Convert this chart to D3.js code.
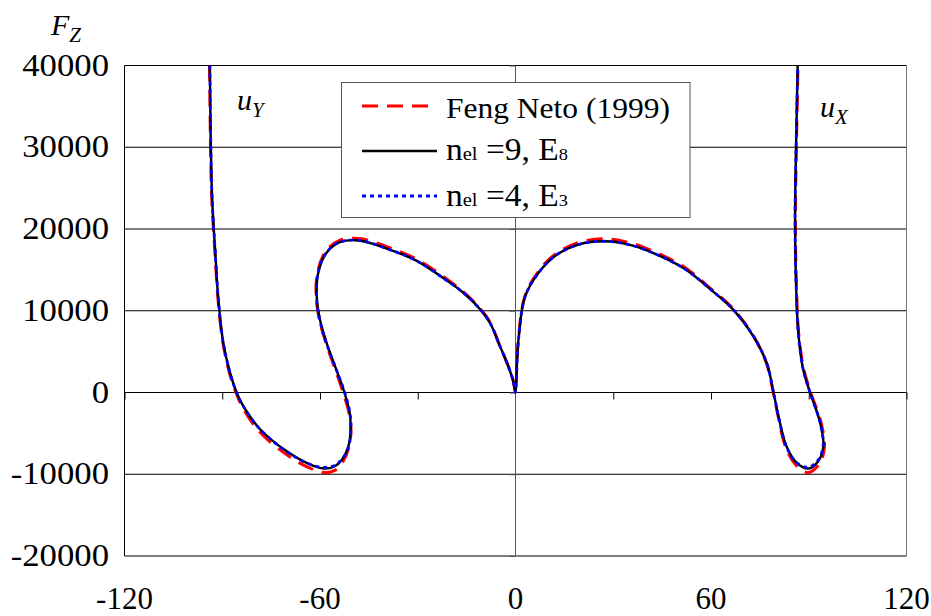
<!DOCTYPE html>
<html>
<head>
<meta charset="utf-8">
<script src="https://cdn.jsdelivr.net/npm/d3@7"></script>
<style>
  html, body { margin: 0; padding: 0; background: #fff; }
</style>
</head>
<body>
<svg id="chart" width="931" height="616"></svg>
<script>
// ---------- data ----------
const xTickLabels = [-120, -60, 0, 60, 120];
const xMinorTicks = [-120, -90, -60, -30, 30, 60, 90, 120];
const yTickLabels = [-20000, -10000, 0, 10000, 20000, 30000, 40000];
const seriesNames = ["Feng Neto (1999)", "n_el=9, E8", "n_el=4, E3"];

// Feng Neto (1999) – red dashed
const fengU = [-93.9,-93.6,-93.2,-92.3,-91.3,-89.8,-87.8,-85.8,-83.8,-78.8,-70.6,-63.4,-58.6,-55.3,-53.0,-51.1,-50.5,-51.1,-52.9,-55.3,-58.2,-60.2,-61.2,-60.7,-58.2,-54.0,-48.0,-39.5,-30.3,-22.2,-16.0,-10.9,-7.8,-4.8,-2.2,-0.7,0,
               0.35,0.9,2.9,7.0,12.1,19.3,27.5,35.7,43.8,52.0,60.2,66.9,73.0,77.0,79.1,80.6,83.0,86.1,89.9,93.3,94.8,93.8,90.6,88.5,86.9,86.2,85.9,86.2,86.7];
const fengF = [40000,30000,23600,17500,11400,6100,2400,0,-1800,-4700,-7500,-9200,-9800,-9500,-8500,-6700,-4500,-2500,0,2800,6100,8900,11800,14800,17300,18600,18850,17850,16300,14200,12300,10300,8600,5700,3200,1400,0,
               2700,6500,11800,14800,16900,18350,18800,18250,17000,15300,12600,10200,6900,3600,0,-2900,-6800,-8900,-9800,-8700,-6700,-3700,0,2800,7300,13400,21600,29700,40000];

// n_el = 9, E8 – black solid
const nel9U = [-93.8,-93.5,-93.1,-92.2,-91.2,-89.7,-87.6,-85.6,-83.5,-78.4,-70.2,-63.1,-58.8,-55.6,-53.2,-51.3,-50.6,-50.9,-52.5,-55.0,-58.0,-60.0,-61.0,-60.5,-58.0,-53.9,-48.0,-39.5,-30.3,-22.2,-16.0,-10.9,-7.8,-4.8,-2.2,-0.7,0,
               0.35,0.9,2.9,7.0,12.1,19.3,27.5,35.7,43.8,52.0,60.2,66.9,73.0,77.1,79.2,80.7,83.2,86.3,89.9,92.9,94.5,93.5,90.4,88.3,86.8,86.1,85.8,86.1,86.6];
const nel9F = [40000,30000,23600,17500,11400,6100,2400,0,-1700,-4500,-7200,-8800,-9300,-9050,-8200,-6600,-4500,-2500,0,2800,6100,8900,11800,14700,17100,18400,18600,17600,16100,14000,12200,10200,8500,5700,3200,1400,0,
               2700,6400,11700,14600,16700,18100,18500,18000,16800,15100,12500,10100,6900,3600,0,-2900,-6600,-8600,-9300,-8400,-6600,-3700,0,2800,7300,13400,21600,29700,40000];

// n_el = 4, E3 – blue dotted
const nel4U = [-93.8,-93.5,-93.1,-92.2,-91.2,-89.7,-87.6,-85.6,-83.5,-78.4,-70.3,-63.3,-59.0,-55.7,-53.2,-51.2,-50.5,-50.8,-52.4,-55.0,-58.1,-60.1,-61.1,-60.6,-58.1,-54.0,-48.0,-39.5,-30.3,-22.2,-16.0,-10.9,-7.8,-4.8,-2.2,-0.7,0,
               0.35,0.9,2.9,7.0,12.1,19.3,27.5,35.7,43.8,52.0,60.2,66.9,73.0,77.1,79.2,80.7,83.1,86.2,89.8,92.8,94.4,93.5,90.4,88.3,86.8,86.1,85.8,86.1,86.6];
const nel4F = [40000,30000,23600,17500,11400,6100,2400,0,-1700,-4500,-7200,-8750,-9150,-8950,-8150,-6600,-4500,-2500,0,2800,6100,8900,11800,14700,17100,18400,18600,17600,16100,14000,12200,10200,8500,5700,3200,1400,0,
               2700,6400,11700,14600,16700,18100,18500,18000,16800,15100,12500,10100,6900,3600,0,-2900,-6600,-8550,-9150,-8300,-6500,-3700,0,2800,7300,13400,21600,29700,40000];

// ---------- layout ----------
const FONT = "Liberation Serif";
const svg = d3.select("#chart");
const L = 124.5, R = 906.5, T = 65.5, B = 556;
const x = d3.scaleLinear().domain([-120, 120]).range([L, R]);
const y = d3.scaleLinear().domain([-20000, 40000]).range([B, T]);

svg.append("defs").append("clipPath").attr("id", "clip")
  .append("rect").attr("x", L).attr("y", T).attr("width", R - L).attr("height", B - T);

// horizontal gridlines
svg.append("g").selectAll("line").data(yTickLabels.filter(v => v !== 0 && v !== -20000 && v !== 40000))
  .join("line")
  .attr("x1", L).attr("x2", R)
  .attr("y1", d => y(d)).attr("y2", d => y(d))
  .attr("stroke", "#000").attr("stroke-width", 1);

// frame
svg.append("line").attr("x1", L).attr("x2", R).attr("y1", T).attr("y2", T).attr("stroke", "#000");
svg.append("line").attr("x1", L).attr("x2", R).attr("y1", B).attr("y2", B).attr("stroke", "#000");
svg.append("line").attr("x1", L).attr("x2", L).attr("y1", T).attr("y2", B).attr("stroke", "#000");
svg.append("line").attr("x1", R).attr("x2", R).attr("y1", T).attr("y2", B).attr("stroke", "#777");

// x axis at F = 0 (ticks downward)
const xAxis = d3.axisBottom(x).tickValues(xMinorTicks).tickSize(7).tickFormat("");
const gx = svg.append("g").attr("transform", `translate(0,${y(0)})`).call(xAxis);
gx.select(".domain").attr("stroke", "#000").attr("d", `M${L},0H${R}`);
gx.selectAll(".tick line").attr("stroke", "#000");

// y axis at u = 0 (ticks leftward)
const yAxis = d3.axisLeft(y).tickValues(yTickLabels).tickSize(6).tickFormat("");
const gy = svg.append("g").attr("transform", `translate(${x(0)},0)`).call(yAxis);
gy.select(".domain").attr("stroke", "#555").attr("d", `M0,${T}V${B}`);
gy.selectAll(".tick line").attr("stroke", "#555");

// tick labels
svg.append("g").selectAll("text").data(yTickLabels).join("text")
  .attr("transform", d => `translate(109,${y(d) + 10}) scale(1.12,1)`)
  .attr("font-family", FONT)
  .attr("text-anchor", "end").attr("font-size", 31).attr("fill", "#000")
  .text(d => d);
svg.append("g").selectAll("text").data(xTickLabels).join("text")
  .attr("x", d => x(d)).attr("y", 608.5)
  .attr("font-family", FONT)
  .attr("text-anchor", "middle").attr("font-size", 31).attr("fill", "#000")
  .text(d => d);

// axis title F_Z
const ft = svg.append("text").attr("x", 51).attr("y", 35).attr("font-size", 30)
  .attr("font-family", FONT).attr("font-style", "italic");
ft.append("tspan").text("F");
ft.append("tspan").attr("font-size", 21).attr("dy", 6.5).text("Z");

// curve labels
const uy = svg.append("text").attr("x", 237).attr("y", 110).attr("font-size", 30)
  .attr("font-family", FONT).attr("font-style", "italic");
uy.append("tspan").text("u");
uy.append("tspan").attr("font-size", 21).attr("dy", 6.5).text("Y");
const ux = svg.append("text").attr("x", 820).attr("y", 117).attr("font-size", 30)
  .attr("font-family", FONT).attr("font-style", "italic");
ux.append("tspan").text("u");
ux.append("tspan").attr("font-size", 21).attr("dy", 6.5).text("X");

// ---------- curves ----------
const line = d3.line().x(d => x(d[0])).y(d => y(d[1])).curve(d3.curveCatmullRom.alpha(0.5));
const zipped = (U, F) => U.map((u, i) => [u, F[i]]);
const series = [
  { pts: zipped(fengU, fengF), color: "#ff0000", width: 3, dash: "16,9" },
  { pts: zipped(nel9U, nel9F), color: "#000000", width: 2.4, dash: null },
  { pts: zipped(nel4U, nel4F), color: "#0000ff", width: 2.8, dash: "4,4" }
];
const gc = svg.append("g").attr("clip-path", "url(#clip)");
series.forEach(s => {
  gc.append("path").datum(s.pts).attr("d", line)
    .attr("fill", "none").attr("stroke", s.color).attr("stroke-width", s.width)
    .attr("stroke-dasharray", s.dash);
});

// ---------- legend ----------
const lg = svg.append("g");
lg.append("rect").attr("x", 341.5).attr("y", 82.5).attr("width", 348.5).attr("height", 135)
  .attr("fill", "#fff").attr("stroke", "#555").attr("stroke-width", 1);
const rows = [106, 151, 196];
const baselines = [117.5, 160, 206];
const targetW = [224, 122, 122];
series.forEach((s, i) => {
  lg.append("line").attr("x1", 362).attr("x2", 437).attr("y1", rows[i]).attr("y2", rows[i])
    .attr("stroke", s.color).attr("stroke-width", s.width).attr("stroke-dasharray", s.dash);
});
function fitText(t, i) {
  const w = t.node().getComputedTextLength();
  const s = w > 0 ? targetW[i] / w : 1;
  t.attr("transform", `translate(446,${baselines[i]}) scale(${s},1)`);
}
const t0 = lg.append("text").attr("x", 0).attr("y", 0).attr("font-size", 30)
  .attr("font-family", FONT).text(seriesNames[0]);
fitText(t0, 0);
[[1, "9", "8"], [2, "4", "3"]].forEach(([i, n, e]) => {
  const t = lg.append("text").attr("x", 0).attr("y", 0).attr("font-size", 31)
    .attr("font-family", FONT);
  t.append("tspan").text("n");
  t.append("tspan").attr("font-size", 19).text("el");
  t.append("tspan").text(" =" + n + ", E");
  t.append("tspan").attr("font-size", 17).text(e);
  fitText(t, i);
});
</script>
</body>
</html>
